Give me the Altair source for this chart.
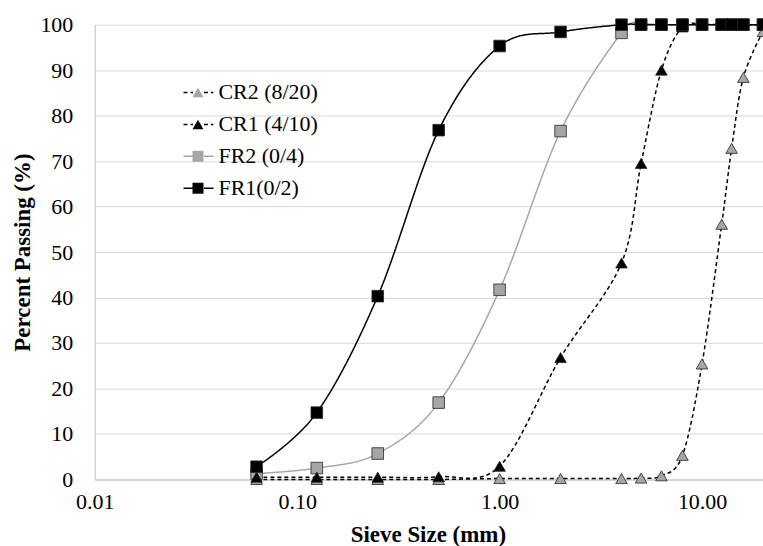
import altair as alt
import pandas as pd

# Sieve sizes (mm)
sizes = [0.063, 0.125, 0.25, 0.5, 1, 2, 4, 5, 6.3, 8, 10, 12.5, 14, 16, 20]

series_names = ["CR2 (8/20)", "CR1 (4/10)", "FR2 (0/4)", "FR1(0/2)"]

cr2 = [0.0, 0.0, 0.0, 0.0, 0.2, 0.2, 0.2, 0.3, 0.8, 5.3, 25.4, 56.1, 72.8, 88.4, 98.5]
cr1 = [0.5, 0.5, 0.5, 0.6, 2.9, 26.8, 47.6, 69.5, 90.0, 99.5, 100, 100, 100, 100, 100]
fr2 = [1.3, 2.5, 5.7, 16.9, 41.7, 76.6, 98.2, 100, 100, 100, 100, 100, 100, 100, 100]
fr1 = [2.8, 14.7, 40.3, 76.8, 95.3, 98.4, 100, 100, 100, 100, 100, 100, 100, 100, 100]

values_by_series = {
    "CR2 (8/20)": cr2,
    "CR1 (4/10)": cr1,
    "FR2 (0/4)": fr2,
    "FR1(0/2)": fr1,
}

# drawing order (later drawn on top)
draw_order = ["CR2 (8/20)", "FR2 (0/4)", "CR1 (4/10)", "FR1(0/2)"]

# line legend keys get a trailing space so Vega-Lite keeps the two legends apart
line_names = [n + " " for n in series_names]

rows = []
for k, name in enumerate(draw_order):
    for s, v in zip(sizes, values_by_series[name]):
        rows.append({"size": s, "pct": v, "series": name,
                     "line_series": name + " ", "order": k})
df = pd.DataFrame(rows)

FONT = "Liberation Serif, Times New Roman, serif"
GRAY = "#a6a6a6"

line_colors = ["black", "black", GRAY, "black"]
line_dashes = [[4, 3], [4, 3], [1, 0], [1, 0]]
fill_colors = [GRAY, "black", GRAY, "black"]
shapes = ["triangle-up", "triangle-up", "square", "square"]

x_enc = alt.X(
    "size:Q",
    scale=alt.Scale(type="log", domain=[0.01, 20], nice=False),
    axis=alt.Axis(
        values=[0.01, 0.1, 1, 10], format=".2f", grid=False, ticks=False,
        domainColor="#bfbfbf", labelFlush=False, labelOverlap=False,
        labelFont=FONT, labelFontSize=22, labelColor="black", labelPadding=12,
        title="Sieve Size (mm)", titleFont=FONT, titleFontSize=23,
        titleFontWeight="bold", titleColor="black",
        titleX=334, titleY=62, titleBaseline="alphabetic",
    ),
)
y_enc = alt.Y(
    "pct:Q",
    scale=alt.Scale(domain=[0, 100], nice=False),
    axis=alt.Axis(
        values=list(range(0, 101, 10)), grid=True, gridColor="#d9d9d9",
        gridWidth=1, ticks=False, domainColor="#bfbfbf",
        labelFont=FONT, labelFontSize=22, labelColor="black", labelPadding=22,
        title="Percent Passing (%)", titleFont=FONT, titleFontSize=23,
        titleFontWeight="bold", titleColor="black", titleAngle=270,
        titleX=-65, titleY=228, titleAlign="center", titleBaseline="alphabetic",
    ),
)

legend_common = dict(
    title=None,
    orient="none",
    legendY=57,
    labelFont=FONT,
    labelFontSize=22,
    labelColor="black",
    labelOffset=9,
    rowPadding=10,
    padding=0,
)

line_legend = alt.Legend(
    symbolType="M-3,0H-1.1M1.1,0H3",
    symbolStrokeWidth=1.5,
    symbolSize=100,
    legendX=93,
    **legend_common,
)
marker_legend = alt.Legend(
    symbolStrokeColor="#262626",
    symbolStrokeWidth=0.8,
    symbolSize=121,
    legendX=92.5,
    labelOpacity=0,
    **legend_common,
)

lines = alt.Chart(df).mark_line(interpolate="cardinal", strokeWidth=1.5).encode(
    x=x_enc,
    y=y_enc,
    detail="line_series:N",
    stroke=alt.Stroke(
        "line_series:N",
        scale=alt.Scale(domain=line_names, range=line_colors),
        legend=line_legend,
    ),
    strokeDash=alt.StrokeDash(
        "line_series:N",
        scale=alt.Scale(domain=line_names, range=line_dashes),
        legend=line_legend,
    ),
)

points = alt.Chart(df).mark_point(
    filled=True, opacity=1, stroke="#262626", strokeWidth=0.8, size=135
).encode(
    x=x_enc,
    y=y_enc,
    fill=alt.Fill(
        "series:N",
        scale=alt.Scale(domain=series_names, range=fill_colors),
        legend=marker_legend,
    ),
    shape=alt.Shape(
        "series:N",
        scale=alt.Scale(domain=series_names, range=shapes),
        legend=marker_legend,
    ),
    order=alt.Order("order:Q"),
)

chart = (
    alt.layer(lines, points)
    .properties(
        width=670,
        height=456,
        padding={"left": 95, "top": 24, "right": 0, "bottom": 66},
        autosize="none",
        background="white",
    )
    .configure_view(stroke=None)
)

chart.save("out.html", embed_options={"renderer": "svg", "actions": False})
